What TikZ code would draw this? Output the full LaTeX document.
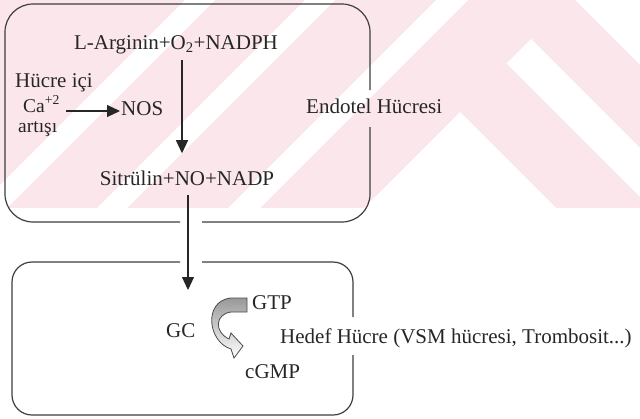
\documentclass[tikz,border=0pt]{standalone}
\usepackage{fontspec}
\setmainfont{Liberation Serif}
\usetikzlibrary{arrows.meta}
\definecolor{wmpink}{RGB}{251,231,235}
\definecolor{ink}{RGB}{38,38,38}
\definecolor{wall}{RGB}{62,62,62}

\begin{document}
\begin{tikzpicture}[x=1pt,y=-1pt,
  lbl/.style={font=\fontsize{21}{24}\selectfont, text=ink, inner sep=0pt},
  small/.style={font=\fontsize{19.5}{22}\selectfont},
  cellwall/.style={draw=wall, line width=1.2pt},
  flow/.style={draw=ink, line width=1.1pt, -{Triangle[length=13pt,width=12pt]}},
  turnarrow/.style={draw=black!70, line width=0.8pt, top color=black!40, bottom color=white},
]
\useasboundingbox (0,0) rectangle (640,418);

% pale striped emblem behind the upper half
\begin{scope}
  \clip (0,0) rectangle (640,208);
  \fill[wmpink] (0,0) rectangle (640,208);
  % rising stripes on the left
  \fill[white] (185,0) -- (215,0) -- (7,208) -- (-23,208) -- cycle;
  \fill[white] (305,0) -- (335,0) -- (127,208) -- (97,208) -- cycle;
  \fill[white] (436,0) -- (468,0) -- (260,208) -- (228,208) -- cycle;
  % chevron on the right
  \fill[white] (575,0) -- (720,0) -- (720,145) -- cycle;
  \fill[white] (531,39) -- (731,239) -- (706.5,263.5) -- (506.5,63.5) -- cycle;
  \fill[white] (460,112) -- (580,232) -- (340,232) -- cycle;
\end{scope}

% lanes used by the connectors
\coordinate (lane1) at (182,0);
\coordinate (lane2) at (188,0);
\coordinate (caline) at (0,111);
\coordinate (gcin) at (188,290);

% endothelial cell wall (open where the label and the NO arrow pass)
\draw[cellwall, rounded corners=28pt] (370,127) -- (370,222) -- (202,222);
\draw[cellwall, rounded corners=28pt] (180,222) -- (5,222) -- (5,4) -- (370,4) -- (370,90);

% target cell wall
\draw[cellwall, rounded corners=20pt] (353,355) -- (353,415) -- (12,415) -- (12,262) -- (180,262);
\draw[cellwall, rounded corners=20pt] (202,262) -- (353,262) -- (353,317);

% labels
\node[lbl, anchor=base] (arg) at (176,49) {L-Arginin+O\textsubscript{2}+NADPH};
\node[lbl, anchor=base] (sit) at (187,185) {Sitrülin+NO+NADP};
\node[lbl, anchor=base west] (hic) at (15,87) {Hücre içi};
\node[lbl, small, anchor=base west] (ca) at (23,112) {Ca\textsuperscript{+2}};
\node[lbl, small, anchor=base west] (art) at (18,132) {artışı};
\node[lbl, anchor=base west] (nos) at (121,115) {NOS};
\node[lbl, anchor=base west] (endo) at (306,113) {Endotel Hücresi};
\node[lbl, anchor=base west] (gc) at (166,337) {GC};
\node[lbl, anchor=base west] (gtp) at (252,309) {GTP};
\node[lbl, anchor=base west] (cgmp) at (245,378) {cGMP};
\node[lbl, anchor=base west] (hedef) at (280,343) {Hedef Hücre (VSM hücresi, Trombosit...)};

% reactions
\draw[flow, shorten <=6pt, shorten >=17pt] (arg.south -| lane1) -- (sit.north -| lane1);
\draw[flow, shorten <=6pt, shorten >=1pt] (ca.east |- caline) -- (nos.west |- caline);
\draw[flow, shorten <=10pt] (sit.south -| lane2) -- (gcin);

% GTP -> cGMP turning arrow
\path[turnarrow]
  (247,298) -- (247,312) -- (231,312)
  .. controls (215,314) and (214,332) .. (229,339)
  -- (231,333) -- (243,346) -- (234,358) -- (231,349)
  .. controls (208,342) and (203,302) .. (230,298) -- cycle;
\end{tikzpicture}
\end{document}
